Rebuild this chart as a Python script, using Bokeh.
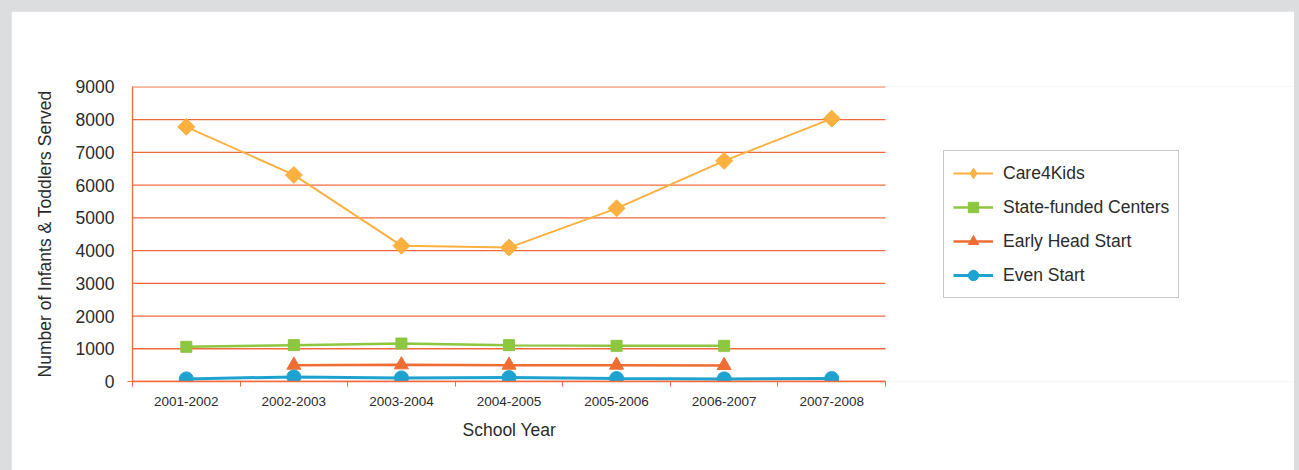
import numpy as np
from bokeh.plotting import figure
from bokeh.models import (FixedTicker, Legend, LegendItem, Range1d, Title)
from bokeh.layouts import column
from bokeh.embed import file_html
from bokeh.resources import INLINE

# School years on the x axis
years = ["2001-2002", "2002-2003", "2003-2004", "2004-2005",
         "2005-2006", "2006-2007", "2007-2008"]

# Number of infants & toddlers served per program (nan = not reported)
care4kids = [7780, 6310, 4150, 4090, 5290, 6740, 8030]
state_funded = [1060, 1110, 1160, 1110, 1090, 1090, np.nan]
early_head_start = [np.nan, 500, 510, 500, 500, 490, np.nan]
even_start = [80, 140, 110, 120, 90, 80, 90]

y_ticks = list(range(0, 9001, 1000))

FONT = "Liberation Sans"
TEXT = "#2b2b2b"
GRID = "#f26a3c"

n = len(years)
xs = np.arange(n) + 0.5

# The frame runs on to the right edge so the legend box can sit inside it;
# the chart itself occupies the first CHART_W pixels of the frame.
LEFT = 121
FRAME_W = 1162
CHART_W = 753
x_end = n * FRAME_W / CHART_W

p = figure(frame_width=FRAME_W, frame_height=295,
           output_backend="svg", toolbar_location=None,
           x_range=Range1d(0, x_end), y_range=Range1d(0, 9012),
           min_border_left=LEFT, min_border_right=0,
           min_border_top=75, min_border_bottom=89,
           background_fill_color="white", border_fill_color="white",
           margin=(11, 5, 0, 11))
p.outline_line_color = None

# horizontal grid lines, limited to the chart's width
p.grid.visible = False
p.segment(x0=0, x1=n, y0=y_ticks, y1=y_ticks, line_color=GRID,
          line_width=1.3, level="underlay")

# x axis: labels at category centres, tick marks at category boundaries
xa = p.xaxis[0]
xa.bounds = (0, n)
xa.ticker = FixedTicker(ticks=list(xs), minor_ticks=list(range(n + 1)))
xa.major_label_overrides = {float(x): y for x, y in zip(xs, years)}
xa.major_tick_out = 0
xa.major_tick_in = 0
xa.minor_tick_out = 5
xa.minor_tick_in = 0
xa.minor_tick_line_color = GRID
xa.axis_line_color = GRID
xa.axis_line_width = 1.3
xa.major_label_text_font = FONT
xa.major_label_text_font_size = "13.5px"
xa.major_label_text_color = TEXT
xa.major_label_standoff = 10

# x axis title, centred under the chart rather than the whole frame
p.add_layout(Title(text="School Year", align="left", offset=330,
                   text_font=FONT, text_font_size="17.5px",
                   text_font_style="normal", text_color=TEXT,
                   standoff=18), "below")

ya = p.yaxis[0]
ya.ticker = FixedTicker(ticks=y_ticks, minor_ticks=[0])
ya.major_tick_out = 0
ya.major_tick_in = 0
ya.minor_tick_out = 5
ya.minor_tick_in = 0
ya.minor_tick_line_color = GRID
ya.axis_line_color = GRID
ya.axis_line_width = 1.3
ya.major_label_text_font = FONT
ya.major_label_text_font_size = "17.5px"
ya.major_label_text_color = TEXT
ya.major_label_standoff = 13
ya.axis_label = "Number of Infants & Toddlers Served"
ya.axis_label_text_font = FONT
ya.axis_label_text_font_size = "17.5px"
ya.axis_label_text_font_style = "normal"
ya.axis_label_text_color = TEXT
ya.axis_label_standoff = 18

series = [
    ("Care4Kids", care4kids, "#fbb040", "square", 12, 45, 2, "diamond"),
    ("State-funded Centers", state_funded, "#8dc63f", "square", 11, 0, 2.5, None),
    ("Early Head Start", early_head_start, "#ef6d33", "triangle", 14, 0, 2.5, None),
    ("Even Start", even_start, "#1ea3d0", "circle", 14, 0, 3, None),
]

items = []
for name, vals, color, marker, size, ang, lw, key_marker in series:
    ln = p.line(xs, vals, line_color=color, line_width=lw)
    sc = p.scatter(xs, vals, marker=marker, size=size, angle=np.deg2rad(ang),
                   fill_color=color, line_color=color)
    key = sc
    if key_marker is not None:
        # the legend key ignores marker rotation, so give it its own shape
        key = p.scatter([np.nan], [np.nan], marker=key_marker,
                        fill_color=color, line_color=color)
    items.append(LegendItem(label=name, renderers=[ln, key]))

legend = Legend(items=items, location=(CHART_W + 58, 83),
                label_text_font=FONT, label_text_font_size="17.5px",
                label_text_color=TEXT, glyph_width=40, glyph_height=26,
                label_height=26, spacing=8, padding=9, label_standoff=10,
                border_line_color="#8c8c8c", border_line_width=1,
                background_fill_color="white", background_fill_alpha=1,
                margin=0)
p.add_layout(legend, "center")

page = column(p, width=1299, height=470,
              styles={"background-color": "#dcdddf"})

open("out.html", "w").write(file_html(page, INLINE))
